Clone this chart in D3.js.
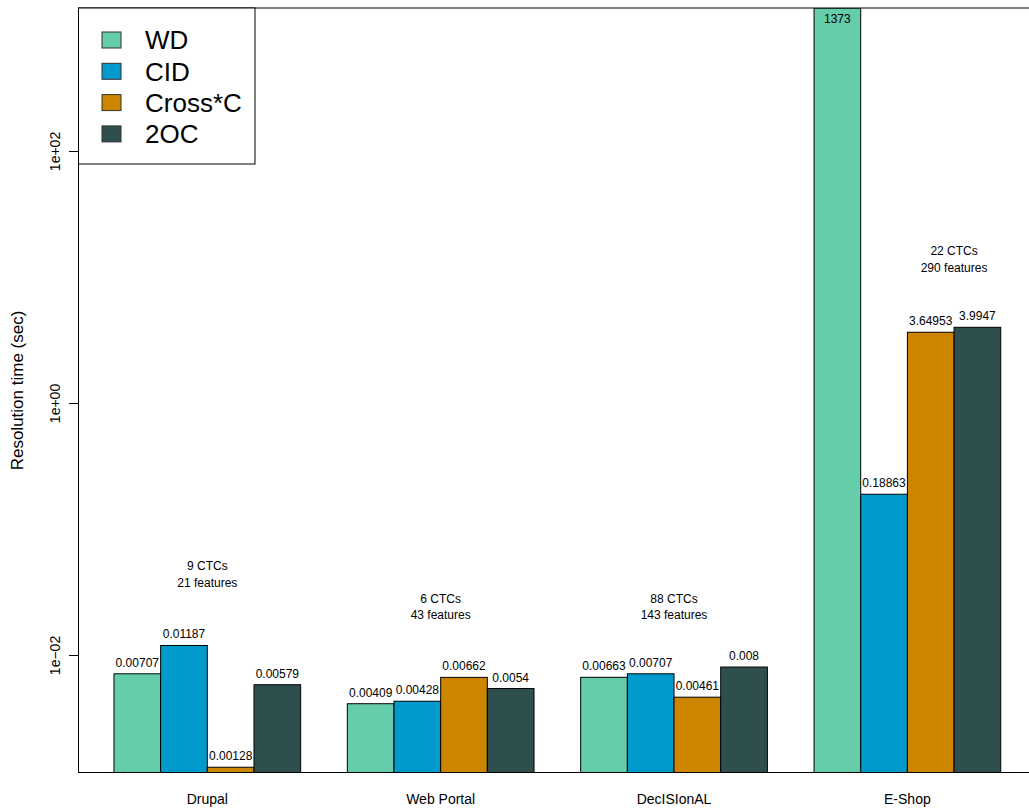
<!DOCTYPE html>
<html>
<head>
<meta charset="utf-8">
<script src="https://cdn.jsdelivr.net/npm/d3@7"></script>
<style>
  html, body { margin: 0; padding: 0; background: #fff; }
  svg { display: block; font-family: "Liberation Sans", Arial, Helvetica, sans-serif; }
</style>
</head>
<body>
<svg id="chart" width="1029" height="809"></svg>
<script>
// Benchmarks (groups along x) and the four resolution approaches (bars per group)
const categories = ["Drupal", "Web Portal", "DecISIonAL", "E-Shop"];
const series = ["WD", "CID", "Cross*C", "2OC"];
const seriesColors = ["#66CDAA", "#009ACD", "#CD8500", "#2F4F4F"];

// Resolution time in seconds, one array per approach (order follows categories)
const valuesWD     = [0.00707, 0.00409, 0.00663, 1373];
const valuesCID    = [0.01187, 0.00428, 0.00707, 0.18863];
const valuesCrossC = [0.00128, 0.00662, 0.00461, 3.64953];
const values2OC    = [0.00579, 0.0054,  0.008,   3.9947];
const valueLabels = [
  ["0.00707", "0.00409", "0.00663", "1373"],
  ["0.01187", "0.00428", "0.00707", "0.18863"],
  ["0.00128", "0.00662", "0.00461", "3.64953"],
  ["0.00579", "0.0054",  "0.008",   "3.9947"]
];

// Per-benchmark size notes and the level (in seconds) they are centred on
const noteCTCs = ["9 CTCs", "6 CTCs", "88 CTCs", "22 CTCs"];
const noteFeatures = ["21 features", "43 features", "143 features", "290 features"];
const noteLevel = [0.0435, 0.024, 0.024, 13.9];

const yTicks = [1e-2, 1e0, 1e2];
const yTickLabels = ["1e\u221202", "1e+00", "1e+02"];

const allSeries = [valuesWD, valuesCID, valuesCrossC, values2OC];

// Plot region
const plotL = 78.5, plotR = 1036.2, plotT = 8, plotB = 773;
const svg = d3.select("#chart");

// Bar units: one empty unit before each group of four bars
const nUnits = categories.length * (series.length + 1);
const x = d3.scaleLinear().domain([0.24, nUnits + 0.76]).range([plotL, plotR]);
const unitW = x(2) - x(1);

const yMin = 0.9 * d3.min(allSeries.flat());
const yMax = d3.max(allSeries.flat());
const y = d3.scaleLog().domain([yMin, yMax]).range([plotB, plotT]);

svg.append("clipPath").attr("id", "plotClip")
  .append("rect").attr("x", plotL).attr("y", plotT)
  .attr("width", plotR - plotL).attr("height", plotB - plotT);

// Bars
const bars = svg.append("g").attr("clip-path", "url(#plotClip)");
allSeries.forEach((vals, s) => {
  vals.forEach((v, g) => {
    const u = 1 + g * (series.length + 1) + s;
    bars.append("rect")
      .attr("x", x(u))
      .attr("y", y(v))
      .attr("width", unitW)
      .attr("height", plotB - y(v))
      .attr("fill", seriesColors[s])
      .attr("stroke", "#000")
      .attr("stroke-width", 1);
  });
});

// Value labels above each bar (inside the bar when it reaches the top)
allSeries.forEach((vals, s) => {
  vals.forEach((v, g) => {
    const u = 1 + g * (series.length + 1) + s;
    let yy = y(v) - 7;
    if (yy < plotT + 12) yy = y(v) + 15;
    svg.append("text")
      .attr("x", x(u + 0.5))
      .attr("y", yy)
      .attr("text-anchor", "middle")
      .attr("font-size", 12)
      .attr("fill", "#000")
      .text(valueLabels[s][g]);
  });
});

// Benchmark notes: centred on the group, or on its last two bars
// when a bar of the group rises past the note
categories.forEach((c, g) => {
  const g0 = 1 + g * (series.length + 1);
  const blocked = allSeries.some(vals => vals[g] > noteLevel[g]);
  const cx = x(g0 + (blocked ? series.length - 1 : series.length / 2));
  const cy = y(noteLevel[g]);
  svg.append("text").attr("x", cx).attr("y", cy - 4)
    .attr("text-anchor", "middle").attr("font-size", 12).text(noteCTCs[g]);
  svg.append("text").attr("x", cx).attr("y", cy + 12.5)
    .attr("text-anchor", "middle").attr("font-size", 12).text(noteFeatures[g]);
});

// Plot frame
svg.append("rect")
  .attr("x", plotL).attr("y", plotT)
  .attr("width", plotR - plotL).attr("height", plotB - plotT - 0.5)
  .attr("fill", "none").attr("stroke", "#000").attr("stroke-width", 1);

// Y axis ticks and rotated labels
yTicks.forEach((t, i) => {
  const ty = Math.round(y(t)) + 0.5;
  svg.append("line").attr("x1", plotL - 9.5).attr("x2", plotL)
    .attr("y1", ty).attr("y2", ty).attr("stroke", "#000");
  svg.append("text")
    .attr("transform", `translate(60,${ty}) rotate(-90)`)
    .attr("text-anchor", "middle")
    .attr("font-size", 14)
    .text(yTickLabels[i]);
});

// Category labels
categories.forEach((c, g) => {
  svg.append("text")
    .attr("x", x(1 + g * (series.length + 1) + series.length / 2))
    .attr("y", 804)
    .attr("text-anchor", "middle")
    .attr("font-size", 14)
    .text(c);
});

// Y axis title
svg.append("text")
  .attr("transform", `translate(23,${(plotT + plotB) / 2}) rotate(-90)`)
  .attr("text-anchor", "middle")
  .attr("font-size", 17)
  .text("Resolution time (sec)");

// Legend
const lg = svg.append("g");
lg.append("rect")
  .attr("x", plotL).attr("y", plotT)
  .attr("width", 255 - plotL).attr("height", 164 - plotT)
  .attr("fill", "#fff").attr("stroke", "#000").attr("stroke-width", 1);
series.forEach((name, i) => {
  const cy = 40 + i * 31.3;
  lg.append("rect")
    .attr("x", 102).attr("y", cy - 8)
    .attr("width", 19).attr("height", 16)
    .attr("fill", seriesColors[i])
    .attr("stroke", "#333").attr("stroke-width", 1);
  lg.append("text")
    .attr("x", 145).attr("y", cy + 9.3)
    .attr("font-size", 26)
    .text(name);
});
</script>
</body>
</html>
